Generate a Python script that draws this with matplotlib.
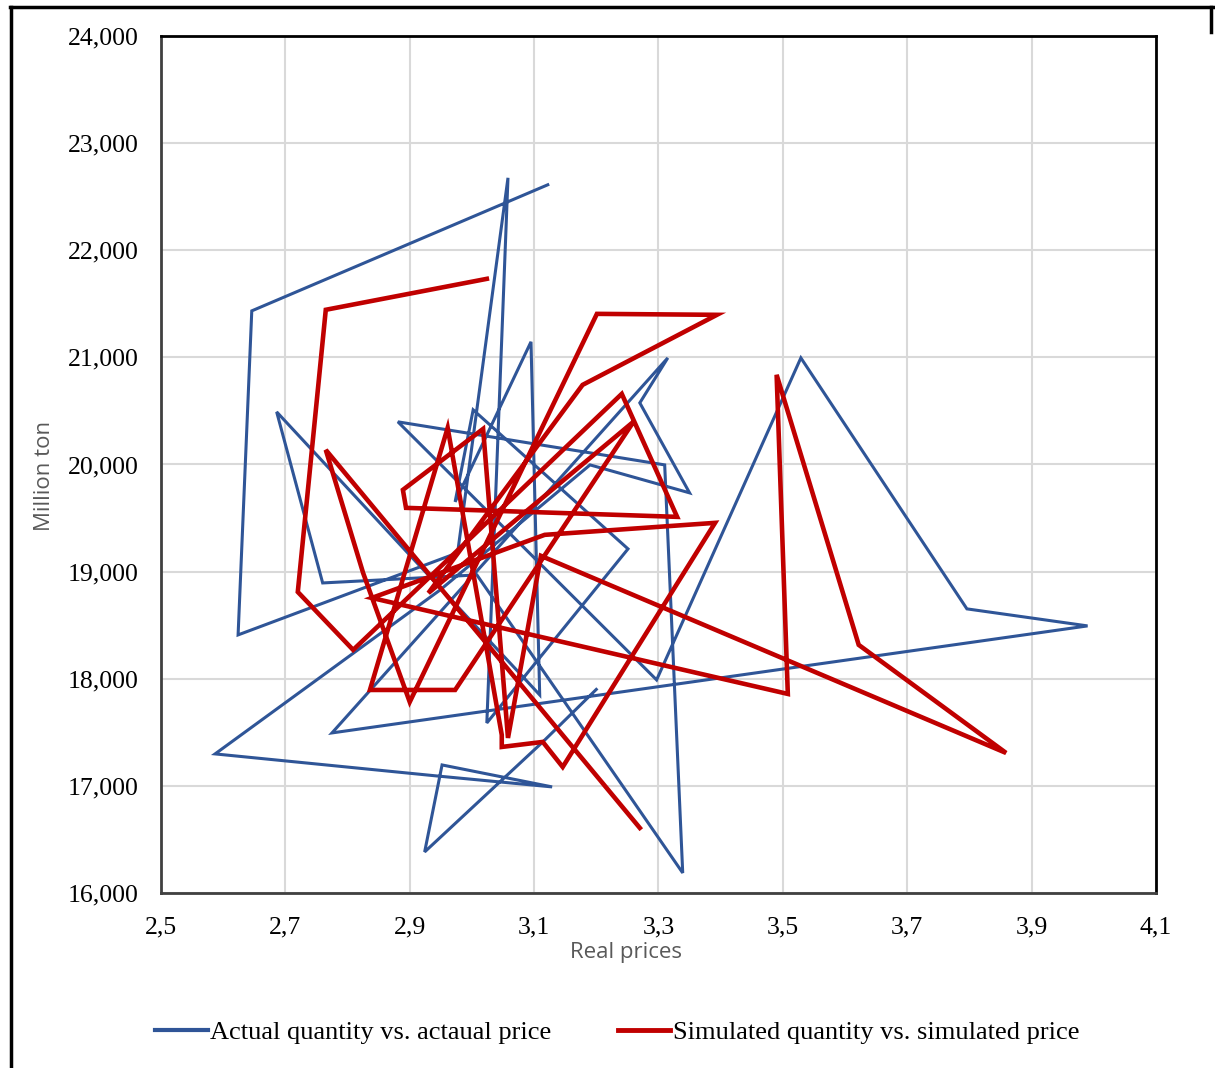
import matplotlib.pyplot as plt
from matplotlib.lines import Line2D
from matplotlib.ticker import FuncFormatter

# actual price / quantity path (price, million ton)
actual_price = [3.122, 2.646, 2.624, 2.977, 3.058, 3.024, 3.251, 3.002, 2.973, 3.095,
                3.109, 2.686, 2.760, 3.008, 3.339, 3.310, 2.881, 3.297, 3.529, 3.796,
                3.990, 2.775, 3.315, 3.270, 3.350, 3.190, 2.949, 2.587, 2.944, 3.129,
                2.952, 2.924, 3.114, 3.200]
actual_qty = [22611, 21434, 18409, 19175, 22676, 17587, 19212, 20510, 19651, 21145,
              17849, 20491, 18894, 18969, 16187, 19996, 20398, 17989, 20995, 18652,
              18493, 17494, 20995, 20575, 19735, 19996, 18829, 17298, 17092, 16990,
              17195, 16383, 17410, 17900]

# simulated price / quantity path
sim_price = [3.024, 2.765, 2.720, 2.809, 3.241, 3.330, 2.894, 2.889, 3.018, 3.058,
             3.111, 3.859, 3.622, 3.490, 3.508, 2.839, 3.117, 3.391, 3.146, 3.114,
             3.048, 3.048, 2.961, 2.836, 2.973, 3.260, 2.930, 3.178, 3.394, 3.201,
             2.900, 2.825, 2.765, 3.270]
sim_qty = [21733, 21444, 18810, 18269, 20659, 19511, 19595, 19763, 20332, 17447,
           19147, 17307, 18316, 20837, 17858, 18754, 19343, 19455, 17176, 17410,
           17363, 17475, 20342, 17895, 17895, 20400, 18800, 20743, 21397, 21406,
           17783, 18988, 20136, 16607]

x_ticks = [2.5, 2.7, 2.9, 3.1, 3.3, 3.5, 3.7, 3.9, 4.1]
y_ticks = [16000, 17000, 18000, 19000, 20000, 21000, 22000, 23000, 24000]

blue = "#2F5597"
red = "#C00000"
serif = "Liberation Serif"

fig = plt.figure(figsize=(12.15, 10.68), dpi=100)
ax = fig.add_axes([0.1325, 0.1639, 0.8189, 0.8024])

ax.plot(actual_price, actual_qty, color=blue, lw=2.2, solid_joinstyle="miter", zorder=3)
ax.plot(sim_price, sim_qty, color=red, lw=3.3, solid_joinstyle="miter", zorder=4)

ax.set_xlim(2.5, 4.1)
ax.set_ylim(16000, 24000)
ax.set_xticks(x_ticks)
ax.set_yticks(y_ticks)
ax.xaxis.set_major_formatter(FuncFormatter(lambda v, p: f"{v:.1f}".replace(".", ",")))
ax.yaxis.set_major_formatter(FuncFormatter(lambda v, p: f"{int(v):,}"))
ax.tick_params(length=0, labelsize=18.5)
ax.tick_params(axis="x", pad=17)
ax.tick_params(axis="y", pad=16)
for lab in ax.get_xticklabels() + ax.get_yticklabels():
    lab.set_fontfamily(serif)
ax.grid(True, color="#d9d9d9", lw=1.5)
ax.set_axisbelow(True)

for side in ["top", "right"]:
    ax.spines[side].set_color("black")
    ax.spines[side].set_linewidth(2)
for side in ["left", "bottom"]:
    ax.spines[side].set_color("#404040")
    ax.spines[side].set_linewidth(2)

ax.set_xlabel("Real prices", fontsize=16, color="#595959", family="Open Sans")
ax.set_ylabel("Million ton", fontsize=16, color="#595959", family="Open Sans")
ax.xaxis.set_label_coords(0.467, -0.057)
ax.yaxis.set_label_coords(-0.107, 0.487)

handles = [Line2D([], [], color=blue, lw=3), Line2D([], [], color=red, lw=3.5)]
fig.legend(handles, ["Actual quantity vs. actaual price", "Simulated quantity vs. simulated price"],
           loc="center", bbox_to_anchor=(0.508, 0.033), ncol=2, frameon=False,
           prop={"family": serif, "size": 19}, handlelength=2.0, handletextpad=0.1,
           columnspacing=2.5)

# outer frame of the chart area
fig.add_artist(Line2D([0.009, 0.009], [0.0, 0.993], color="black", lw=2.5, transform=fig.transFigure))
fig.add_artist(Line2D([0.008, 0.998], [0.993, 0.993], color="black", lw=2.5, transform=fig.transFigure))
fig.add_artist(Line2D([0.997, 0.997], [0.993, 0.97], color="black", lw=2.5, transform=fig.transFigure))

fig.savefig("out.png", dpi=100)
